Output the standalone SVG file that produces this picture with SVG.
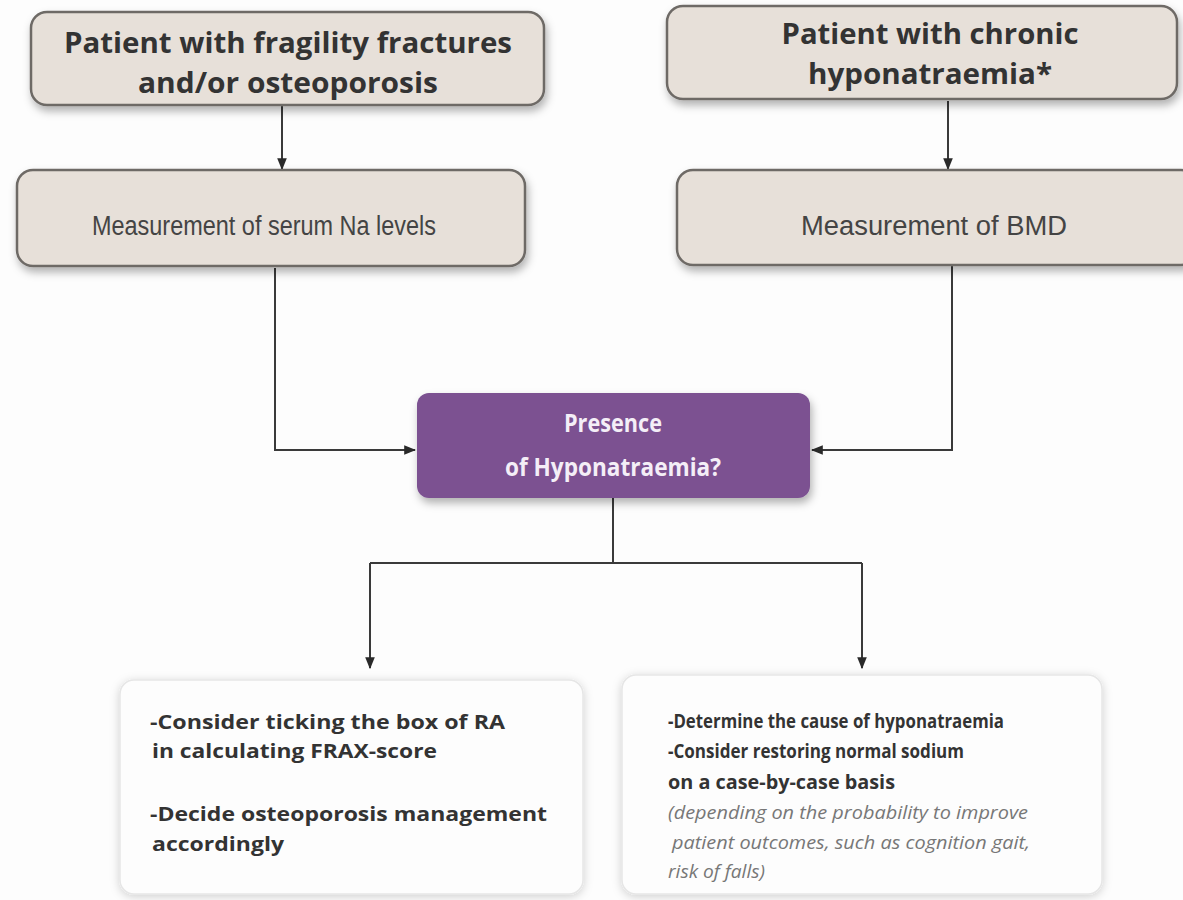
<svg xmlns="http://www.w3.org/2000/svg" width="1183" height="900" viewBox="0 0 1183 900">
<style>
.beige{fill:#e7e0d9;stroke:#6e6a66;stroke-width:2.5}
.white{fill:#fdfdfd;stroke:#e6e6e6;stroke-width:1.5}
.purple{fill:#7b5191}
.conn{fill:none;stroke:#3a3a3a;stroke-width:2}
.hb{font-family:"Open Sans","Liberation Sans",sans-serif;font-weight:bold;font-size:28px;fill:#333;text-anchor:middle}
.mn{font-family:"Liberation Sans","DejaVu Sans",sans-serif;font-size:27px;fill:#444;text-anchor:middle}
.pw{font-family:"Open Sans","Liberation Sans",sans-serif;font-weight:bold;font-size:25px;fill:#f4eef7;text-anchor:middle}
.bb{font-family:"Open Sans","Liberation Sans",sans-serif;font-weight:bold;font-size:20px;fill:#333}
.bi{font-family:"Open Sans","Liberation Sans",sans-serif;font-style:italic;font-size:18px;fill:#777}
</style>
<defs>
<filter id="sh" x="-10%" y="-20%" width="120%" height="150%">
<feDropShadow dx="2" dy="5" stdDeviation="4" flood-color="#000" flood-opacity="0.3"/>
</filter>
<filter id="sh2" x="-10%" y="-10%" width="120%" height="125%">
<feDropShadow dx="0" dy="2" stdDeviation="5" flood-color="#000" flood-opacity="0.18"/>
</filter>
<marker id="ah" viewBox="0 0 10 10" refX="9" refY="5" markerWidth="6" markerHeight="6" orient="auto-start-reverse">
<path d="M0,1 L10,5 L0,9 z" fill="#2a2a2a"/>
</marker>
</defs>
<rect width="1183" height="900" fill="#fdfdfd"/>
<g id="connectors">
<path class="conn" d="M282,106 V169" marker-end="url(#ah)"/>
<path class="conn" d="M948,101 V169" marker-end="url(#ah)"/>
<path class="conn" d="M275,268 V450 H415" marker-end="url(#ah)"/>
<path class="conn" d="M952,266 V450 H812" marker-end="url(#ah)"/>
<path class="conn" d="M613,498 V563"/>
<path class="conn" d="M370,563 H862"/>
<path class="conn" d="M370,563 V668" marker-end="url(#ah)"/>
<path class="conn" d="M862,563 V668" marker-end="url(#ah)"/>
</g>
<g id="n1">
<rect class="beige" x="31" y="12" width="513" height="93" rx="16" filter="url(#sh)"/>
<text class="hb" x="288" y="53" textLength="448" lengthAdjust="spacingAndGlyphs">Patient with fragility fractures</text>
<text class="hb" x="288" y="93" textLength="300" lengthAdjust="spacingAndGlyphs">and/or osteoporosis</text>
</g>
<g id="n2">
<rect class="beige" x="667" y="6" width="510" height="93" rx="16" filter="url(#sh)"/>
<text class="hb" x="930" y="44" textLength="297" lengthAdjust="spacingAndGlyphs">Patient with chronic</text>
<text class="hb" x="930" y="84" textLength="244" lengthAdjust="spacingAndGlyphs">hyponatraemia*</text>
</g>
<g id="n3">
<rect class="beige" x="17" y="170" width="508" height="96" rx="16" filter="url(#sh)"/>
<text class="mn" x="264" y="235" textLength="344" lengthAdjust="spacingAndGlyphs">Measurement of serum Na levels</text>
</g>
<g id="n4">
<rect class="beige" x="677" y="170" width="520" height="95" rx="16" filter="url(#sh)"/>
<text class="mn" x="934" y="235" textLength="266" lengthAdjust="spacingAndGlyphs">Measurement of BMD</text>
</g>
<g id="n5">
<rect class="purple" x="417" y="393" width="393" height="105" rx="12" filter="url(#sh)"/>
<text class="pw" x="613" y="432" textLength="98" lengthAdjust="spacingAndGlyphs">Presence</text>
<text class="pw" x="613" y="476" textLength="216" lengthAdjust="spacingAndGlyphs">of Hyponatraemia?</text>
</g>
<g id="n6">
<rect class="white" x="120" y="680" width="463" height="214" rx="14" filter="url(#sh2)"/>
<text class="bb" x="150" y="729" textLength="355" lengthAdjust="spacingAndGlyphs">-Consider ticking the box of RA</text>
<text class="bb" x="152" y="758" textLength="285" lengthAdjust="spacingAndGlyphs">in calculating FRAX-score</text>
<text class="bb" x="150" y="821" textLength="397" lengthAdjust="spacingAndGlyphs">-Decide osteoporosis management</text>
<text class="bb" x="152" y="851" textLength="132" lengthAdjust="spacingAndGlyphs">accordingly</text>
</g>
<g id="n7">
<rect class="white" x="622" y="675" width="480" height="219" rx="14" filter="url(#sh2)"/>
<text class="bb" x="668" y="728" textLength="336" lengthAdjust="spacingAndGlyphs">-Determine the cause of hyponatraemia</text>
<text class="bb" x="668" y="758" textLength="296" lengthAdjust="spacingAndGlyphs">-Consider restoring normal sodium</text>
<text class="bb" x="668" y="789" textLength="227" lengthAdjust="spacingAndGlyphs">on a case-by-case basis</text>
<text class="bi" x="668" y="819" textLength="360" lengthAdjust="spacingAndGlyphs">(depending on the probability to improve</text>
<text class="bi" x="672" y="849" textLength="358" lengthAdjust="spacingAndGlyphs">patient outcomes, such as cognition gait,</text>
<text class="bi" x="668" y="878" textLength="97" lengthAdjust="spacingAndGlyphs">risk of falls)</text>
</g>
</svg>
